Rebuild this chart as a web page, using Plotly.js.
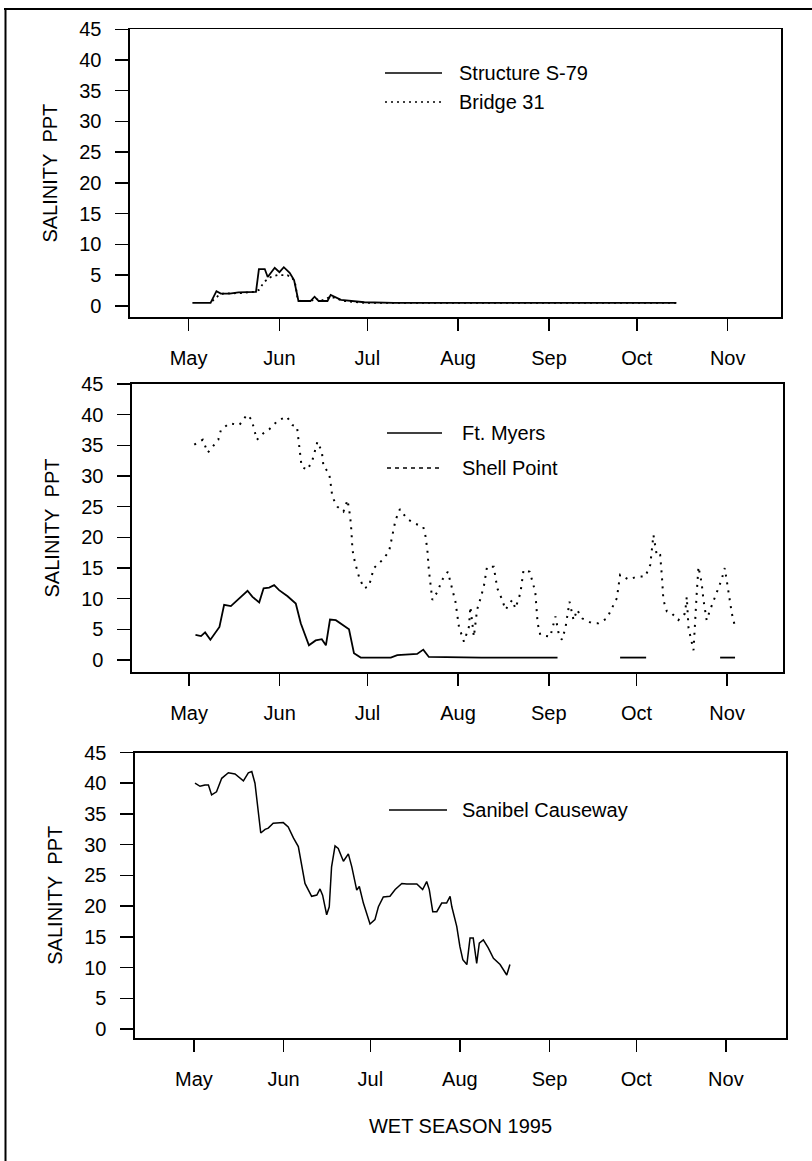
<!DOCTYPE html>
<html><head><meta charset="utf-8">
<script src="https://cdn.plot.ly/plotly-3.0.1.min.js"></script>
<style>html,body{margin:0;padding:0;background:#fff}#chart{width:812px;height:1161px}</style>
</head><body><div id="chart"></div>
<script>
// x values: days since 1 May 1995
const monthStarts = [0, 31, 61, 92, 123, 153, 184];
const monthLabels = ['May', 'Jun', 'Jul', 'Aug', 'Sep', 'Oct', 'Nov'];
const yTicks = [0, 5, 10, 15, 20, 25, 30, 35, 40, 45];

// Panel 1
const s79Day = [1.3, 7.5, 9.5, 11, 14, 17, 23, 24, 26, 27, 29.4, 31, 32.5, 34.5, 36, 37.5, 41.6, 43, 44.4, 47.4, 48.5, 52, 60, 70, 100, 130, 166.5];
const s79Val = [0.5, 0.5, 2.4, 2.0, 2.0, 2.2, 2.3, 6.0, 6.0, 4.7, 6.2, 5.5, 6.3, 5.4, 4.2, 0.8, 0.8, 1.5, 0.8, 0.8, 1.8, 1.0, 0.6, 0.5, 0.5, 0.5, 0.5];
const bridgeDay = [8.1, 10, 11.7, 14.3, 18, 22.3, 24, 25.1, 26.3, 28, 30.3, 33.7, 35.4, 36.5, 37.1, 38.2, 42, 43, 45, 48.5, 53, 60, 70, 100, 130, 166.5];
const bridgeVal = [0.8, 1.6, 2.0, 2.0, 2.1, 2.3, 2.6, 3.4, 4.1, 4.7, 5.0, 5.0, 4.6, 3.4, 1.5, 0.8, 0.8, 1.3, 0.8, 1.5, 0.8, 0.5, 0.5, 0.5, 0.5, 0.5];

// Panel 2
const fmDay = [2.2, 4.1, 5.5, 7.3, 10.4, 12, 14.3, 16.6, 20, 21.7, 24, 25.5, 27.4, 29.1, 30.8, 33.7, 36.5, 38.2, 41, 43.3, 45.4, 46.8, 48.2, 50.2, 54.7, 56.4, 58.7, 69, 71.2, 78, 80.1, 82, 100, 126, 127, 147.4, 156.3, 157, 181.6, 186.7];
const fmVal = [4.1, 3.9, 4.5, 3.3, 5.4, 9.0, 8.8, 9.8, 11.3, 10.3, 9.4, 11.7, 11.8, 12.2, 11.4, 10.4, 9.2, 6.0, 2.4, 3.2, 3.4, 2.4, 6.6, 6.5, 5.0, 1.1, 0.4, 0.4, 0.8, 1.0, 1.7, 0.5, 0.4, 0.4, null, 0.4, 0.4, null, 0.4, 0.4];
const spDay = [1.8, 4.7, 6.4, 10, 10.9, 13.8, 17.2, 19.8, 21.4, 23.2, 25.5, 27.4, 30.3, 33.4, 35.4, 36.9, 37.7, 38.5, 40.5, 42.2, 43.9, 45.4, 46, 47.9, 48.5, 49, 50.7, 52.8, 54.2, 55.1, 55.5, 55.9, 56.7, 58.1, 59.8, 61.5, 63.2, 66.1, 68.4, 69.5, 70.6, 72.1, 74.6, 77.5, 80.1, 80.9, 81.5, 82, 83.2, 84.9, 86.6, 88.5, 89.4, 91.1, 92.3, 94, 95.7, 96.2, 97.4, 98.5, 99.7, 100.8, 101.9, 104.2, 105.4, 107.1, 108.2, 110.5, 111.6, 113.3, 114.4, 116.5, 118.4, 119.2, 120.1, 123.5, 125.3, 126.4, 127.5, 128.7, 130.1, 131.5, 132.7, 134.4, 137.8, 140, 142.9, 144.6, 146.3, 147.4, 150.3, 153.1, 156, 157.7, 158.8, 160, 161.1, 161.7, 162.2, 163.4, 165.1, 167.3, 169.6, 170.2, 170.8, 172.5, 173, 173.6, 174.2, 175.3, 175.9, 177, 178.2, 179.3, 180.4, 182.1, 183.2, 184.4, 185.6, 186.7];
const spVal = [35.1, 35.9, 33.8, 35.9, 37.5, 38.6, 38.3, 40.0, 39.2, 35.9, 37.0, 37.6, 39.0, 39.7, 38.3, 38.1, 34.8, 31.5, 31.0, 32.6, 35.6, 34.0, 31.5, 30.5, 28.5, 26.6, 25.0, 24.2, 26.1, 23.4, 21.2, 17.9, 16.0, 13.6, 11.7, 12.0, 15.0, 16.3, 17.7, 20.1, 22.8, 24.6, 23.0, 22.2, 21.7, 20.1, 17.9, 14.7, 9.8, 11.1, 13.1, 14.4, 12.8, 9.5, 5.4, 3.0, 5.4, 8.7, 3.8, 8.2, 10.1, 12.0, 15.2, 15.2, 11.7, 9.8, 8.2, 9.8, 8.4, 10.9, 14.7, 14.4, 11.1, 6.0, 4.1, 3.8, 7.1, 4.3, 3.3, 5.2, 9.5, 6.5, 8.2, 6.8, 6.0, 6.0, 6.8, 8.4, 10.1, 13.9, 13.1, 13.6, 13.6, 15.5, 20.4, 16.9, 17.1, 13.6, 9.8, 7.9, 7.6, 6.5, 7.6, 10.3, 5.2, 1.6, 6.5, 10.9, 15.2, 12.5, 9.8, 6.5, 8.2, 9.5, 10.9, 13.1, 15.0, 11.4, 7.6, 5.4];

// Panel 3
const sanDay = [0.35, 2.1, 3.8, 5, 6.1, 7.8, 9.6, 11.9, 14.2, 17.1, 18.8, 20, 21.1, 22, 23.1, 24.6, 25.7, 27.4, 30.9, 32.6, 34.4, 36.1, 37.3, 38.4, 40.7, 42.5, 43.6, 44.5, 45.9, 46.8, 47.6, 48.8, 49.9, 51.7, 53.4, 54.6, 56.3, 57.2, 58.6, 60.9, 62.6, 63.8, 65.5, 67.8, 69.6, 71.9, 73.6, 77.1, 79.1, 80.5, 81.4, 82.6, 84, 85.7, 87.4, 88.6, 89.2, 90.9, 92, 93, 94.4, 95.5, 96.6, 97.8, 98.7, 100.1, 101.8, 103.6, 105.9, 108.2, 109.3];
const sanVal = [40.0, 39.5, 39.7, 39.7, 38.1, 38.6, 40.8, 41.7, 41.5, 40.4, 41.7, 41.9, 40.0, 36.2, 31.9, 32.5, 32.7, 33.5, 33.6, 32.9, 31.1, 29.7, 26.4, 23.7, 21.6, 21.8, 22.8, 21.8, 18.6, 19.9, 26.4, 29.8, 29.4, 27.3, 28.5, 26.4, 22.6, 23.2, 20.5, 17.1, 17.8, 19.9, 21.5, 21.6, 22.7, 23.7, 23.6, 23.6, 22.7, 24.0, 22.7, 19.1, 19.1, 20.5, 20.5, 21.6, 19.9, 16.7, 13.4, 11.3, 10.5, 14.8, 14.8, 10.7, 14.0, 14.5, 13.2, 11.5, 10.5, 8.8, 10.5];

const W = 812, H = 1161;
const px = x => x / W, py = y => 1 - y / H;
const FF = 'Liberation Sans, Arial, Helvetica, sans-serif';
const font = {family: FF, size: 20, color: '#000'};

function xax(dom, range, anchor, title) {
  const a = {domain: dom, range: range, anchor: anchor, tickmode: 'array', tickvals: monthStarts, ticktext: monthLabels,
    ticks: 'outside', ticklen: 12, tickwidth: 1.5, tickcolor: '#000', showline: true, linecolor: '#000', linewidth: 1.6,
    mirror: true, showgrid: false, zeroline: false, ticklabelstandoff: 10, tickfont: font, fixedrange: true};
  if (title) a.title = {text: title, font: font, standoff: 30};
  return a;
}
function yax(dom, range, anchor) {
  return {domain: dom, range: range, anchor: anchor, tickmode: 'array', tickvals: yTicks,
    ticks: 'outside', ticklen: 13, tickwidth: 1.5, tickcolor: '#000', showline: true, linecolor: '#000', linewidth: 1.6,
    mirror: true, showgrid: false, zeroline: false, ticklabelstandoff: 10, tickfont: font, fixedrange: true,
    title: {text: 'SALINITY\u00a0\u00a0PPT', font: font, standoff: 16}};
}

const traces = [
  {x: s79Day, y: s79Val, xaxis: 'x', yaxis: 'y', mode: 'lines', line: {color: '#000', width: 1.8}},
  {x: bridgeDay, y: bridgeVal, xaxis: 'x', yaxis: 'y', mode: 'lines', line: {color: '#000', width: 1.8, dash: '2px,4px'}},
  {x: fmDay, y: fmVal, xaxis: 'x2', yaxis: 'y2', mode: 'lines', connectgaps: false, line: {color: '#000', width: 1.8}},
  {x: spDay, y: spVal, xaxis: 'x2', yaxis: 'y2', mode: 'lines', line: {color: '#000', width: 2, dash: '2px,6px'}},
  {x: sanDay, y: sanVal, xaxis: 'x3', yaxis: 'y3', mode: 'lines', line: {color: '#000', width: 1.5}}
];

function legLine(x0, x1, y, dash) {
  return {type: 'line', xref: 'paper', yref: 'paper', x0: px(x0), x1: px(x1), y0: py(y), y1: py(y),
    line: {color: '#000', width: 1.6, dash: dash || 'solid'}};
}
function legText(x, y, t) {
  return {xref: 'paper', yref: 'paper', x: px(x), y: py(y), xanchor: 'left', yanchor: 'middle', text: t, showarrow: false, font: font};
}

const layout = {
  width: W, height: H, margin: {l: 0, r: 0, t: 0, b: 0}, paper_bgcolor: '#fff', plot_bgcolor: '#fff',
  showlegend: false, font: font,
  xaxis: xax([px(130), px(781)], [-20, 202.2], 'y'),
  yaxis: yax([py(317), py(29.25)], [-1.8, 45], 'x'),
  xaxis2: xax([px(132), px(783)], [-19.5, 203.1], 'y2'),
  yaxis2: yax([py(672), py(384)], [-1.95, 45], 'x2'),
  xaxis3: xax([px(135), px(786)], [-20.4, 204.8], 'y3', 'WET SEASON 1995'),
  yaxis3: yax([py(1038), py(752.5)], [-1.45, 45], 'x3'),
  shapes: [
    {type: 'line', xref: 'paper', yref: 'paper', x0: px(4), x1: 1, y0: py(9), y1: py(9), line: {color: '#000', width: 2}},
    {type: 'line', xref: 'paper', yref: 'paper', x0: px(5.5), x1: px(5.5), y0: py(9), y1: 0, line: {color: '#000', width: 2}},
    legLine(385, 442, 73), legLine(385, 442, 102, '2px,4px'),
    legLine(387, 442, 433), legLine(387, 442, 468, '4px,4px'),
    legLine(389, 447, 810)
  ],
  annotations: [
    legText(457, 73, 'Structure S-79'), legText(457, 102, 'Bridge 31'),
    legText(460, 433, 'Ft. Myers'), legText(460, 468, 'Shell Point'),
    legText(460, 810, 'Sanibel Causeway')
  ]
};

Plotly.newPlot('chart', traces, layout, {displayModeBar: false, staticPlot: true});
</script>
</body></html>
